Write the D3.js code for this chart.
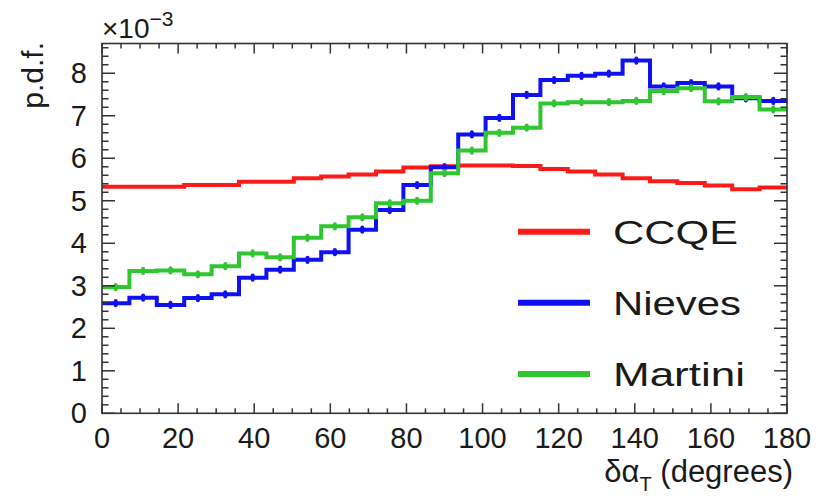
<!DOCTYPE html>
<html>
<head>
<meta charset="utf-8">
<script src="https://cdn.jsdelivr.net/npm/d3@7"></script>
<style>
  html, body { margin: 0; padding: 0; background: #fff; }
  svg { display: block; }
  text { font-family: "Liberation Sans", Arial, sans-serif; fill: #1a1a1a; }
</style>
</head>
<body>
<svg id="chart" width="833" height="500"></svg>
<script>
// Histogram binning of the angle (degrees)
const xMin = 0, xMax = 180, nBins = 25;

// Normalised distributions, in units of 1e-3 per bin
const ccqe = [5.33, 5.33, 5.33, 5.37, 5.37, 5.45, 5.45, 5.53, 5.57, 5.62, 5.69, 5.78, 5.81,
              5.83, 5.83, 5.82, 5.75, 5.69, 5.62, 5.53, 5.46, 5.42, 5.36, 5.27, 5.31];
const nieves = [2.59, 2.72, 2.55, 2.71, 2.80, 3.19, 3.38, 3.61, 3.79, 4.32, 4.78, 5.37, 5.79,
                6.56, 6.95, 7.49, 7.84, 7.94, 7.99, 8.30, 7.69, 7.77, 7.69, 7.41, 7.35];
const martini = [2.97, 3.35, 3.36, 3.27, 3.46, 3.76, 3.67, 4.13, 4.40, 4.61, 4.94, 5.00, 5.65,
                 6.18, 6.60, 6.72, 7.29, 7.32, 7.32, 7.35, 7.58, 7.65, 7.34, 7.44, 7.15];
// statistical uncertainty drawn at bin centres (same units)
const statErr = 0.05;

const seriesNames = ["CCQE", "Nieves", "Martini"];
const seriesColors = ["#ff1a1a", "#1010f0", "#2fc62f"];
const seriesValues = [ccqe, nieves, martini];
const seriesErrBars = [false, true, true];

const xTickValues = [0, 20, 40, 60, 80, 100, 120, 140, 160, 180];
const yTickValues = [0, 1, 2, 3, 4, 5, 6, 7, 8];
const yMax = 8.7;

const svg = d3.select("#chart");
const W = 833, H = 500;
const m = { left: 102, right: 46, top: 43.5, bottom: 86.7 };
const x = d3.scaleLinear().domain([xMin, xMax]).range([m.left, W - m.right]);
const y = d3.scaleLinear().domain([0, yMax]).range([H - m.bottom, m.top]);
const binW = (xMax - xMin) / nBins;

svg.append("rect").attr("width", W).attr("height", H).attr("fill", "#fff");

// clip for the histogram lines
svg.append("clipPath").attr("id", "plotClip")
  .append("rect").attr("x", m.left).attr("y", m.top)
  .attr("width", x(xMax) - x(xMin)).attr("height", y(0) - y(yMax));

// step line through each bin's low edge, closed at the upper edge of the last bin
const stepLine = d3.line()
  .x(d => x(d[0])).y(d => y(d[1]))
  .curve(d3.curveStepAfter);

const plot = svg.append("g").attr("clip-path", "url(#plotClip)");
seriesValues.forEach((vals, si) => {
  const pts = vals.map((v, i) => [xMin + i * binW, v]);
  pts.push([xMax, vals[vals.length - 1]]);
  plot.append("path")
    .attr("d", stepLine(pts))
    .attr("fill", "none")
    .attr("stroke", seriesColors[si])
    .attr("stroke-width", 4)
    .attr("stroke-linejoin", "miter");
  if (seriesErrBars[si]) {
    plot.selectAll(null).data(vals).enter().append("line")
      .attr("x1", (d, i) => x(xMin + (i + 0.5) * binW))
      .attr("x2", (d, i) => x(xMin + (i + 0.5) * binW))
      .attr("y1", d => y(d - statErr))
      .attr("y2", d => y(d + statErr))
      .attr("stroke", seriesColors[si])
      .attr("stroke-width", 4)
      .attr("stroke-linecap", "round");
  }
});

// frame and ticks (all ticks point inward)
const axisColor = "#333";
const frame = svg.append("g");
frame.append("rect")
  .attr("x", m.left).attr("y", m.top)
  .attr("width", x(xMax) - x(xMin)).attr("height", y(0) - y(yMax))
  .attr("fill", "none").attr("stroke", axisColor).attr("stroke-width", 1.6);

const xMinor = d3.range(xMin, xMax + 0.001, 5);
const yMinor = d3.range(0, yMax + 0.001, 0.2);

function tickSet(vals, isMajor, side) {
  vals.forEach(v => {
    let len, x1, y1, x2, y2;
    if (side === "bottom" || side === "top") {
      len = isMajor ? 10 : 5;
      x1 = x2 = x(v);
      if (side === "bottom") { y1 = y(0); y2 = y(0) - len; }
      else { y1 = y(yMax); y2 = y(yMax) + len; }
    } else {
      len = isMajor ? 13 : 6.5;
      y1 = y2 = y(v);
      if (side === "left") { x1 = x(xMin); x2 = x(xMin) + len; }
      else { x1 = x(xMax); x2 = x(xMax) - len; }
    }
    frame.append("line")
      .attr("x1", x1).attr("y1", y1).attr("x2", x2).attr("y2", y2)
      .attr("stroke", axisColor).attr("stroke-width", 1.5);
  });
}
["bottom", "top"].forEach(s => {
  tickSet(xMinor.filter(v => v % 20 !== 0), false, s);
  tickSet(xTickValues, true, s);
});
["left", "right"].forEach(s => {
  tickSet(yMinor.filter(v => Math.abs(v - Math.round(v)) > 1e-6), false, s);
  tickSet(yTickValues, true, s);
});

// tick labels
svg.append("g").selectAll("text").data(xTickValues).enter().append("text")
  .attr("x", d => x(d)).attr("y", 448)
  .attr("text-anchor", "middle").attr("font-size", 29)
  .text(d => d);
svg.append("g").selectAll("text").data(yTickValues).enter().append("text")
  .attr("x", 87).attr("y", d => y(d) + 10)
  .attr("text-anchor", "end").attr("font-size", 29)
  .text(d => d);

// exponent label
const expo = svg.append("text").attr("x", m.left).attr("y", 38).attr("font-size", 28);
expo.append("tspan").text("\u00d710");
expo.append("tspan").attr("dy", -12).attr("font-size", 21).text("\u22123");

// axis titles
svg.append("text")
  .attr("transform", "translate(43,42) rotate(-90)")
  .attr("text-anchor", "end").attr("font-size", 30)
  .text("p.d.f.");

const xt = svg.append("text")
  .attr("x", 793).attr("y", 482)
  .attr("text-anchor", "end").attr("font-size", 31);
xt.append("tspan").text("\u03b4\u03b1");
xt.append("tspan").attr("dy", 9).attr("font-size", 20).text("T");
xt.append("tspan").attr("dy", -9).text(" (degrees)");

// legend
const legendY = [231.7, 302.7, 374];
const legendW = [125, 128, 132];
const legend = svg.append("g");
seriesNames.forEach((name, i) => {
  legend.append("line")
    .attr("x1", 518).attr("x2", 590)
    .attr("y1", legendY[i]).attr("y2", legendY[i])
    .attr("stroke", seriesColors[i]).attr("stroke-width", 6);
  legend.append("text")
    .attr("x", 613).attr("y", legendY[i] + 12)
    .attr("font-size", 33)
    .attr("textLength", legendW[i]).attr("lengthAdjust", "spacingAndGlyphs")
    .attr("fill", "#222")
    .text(name);
});
</script>
</body>
</html>
